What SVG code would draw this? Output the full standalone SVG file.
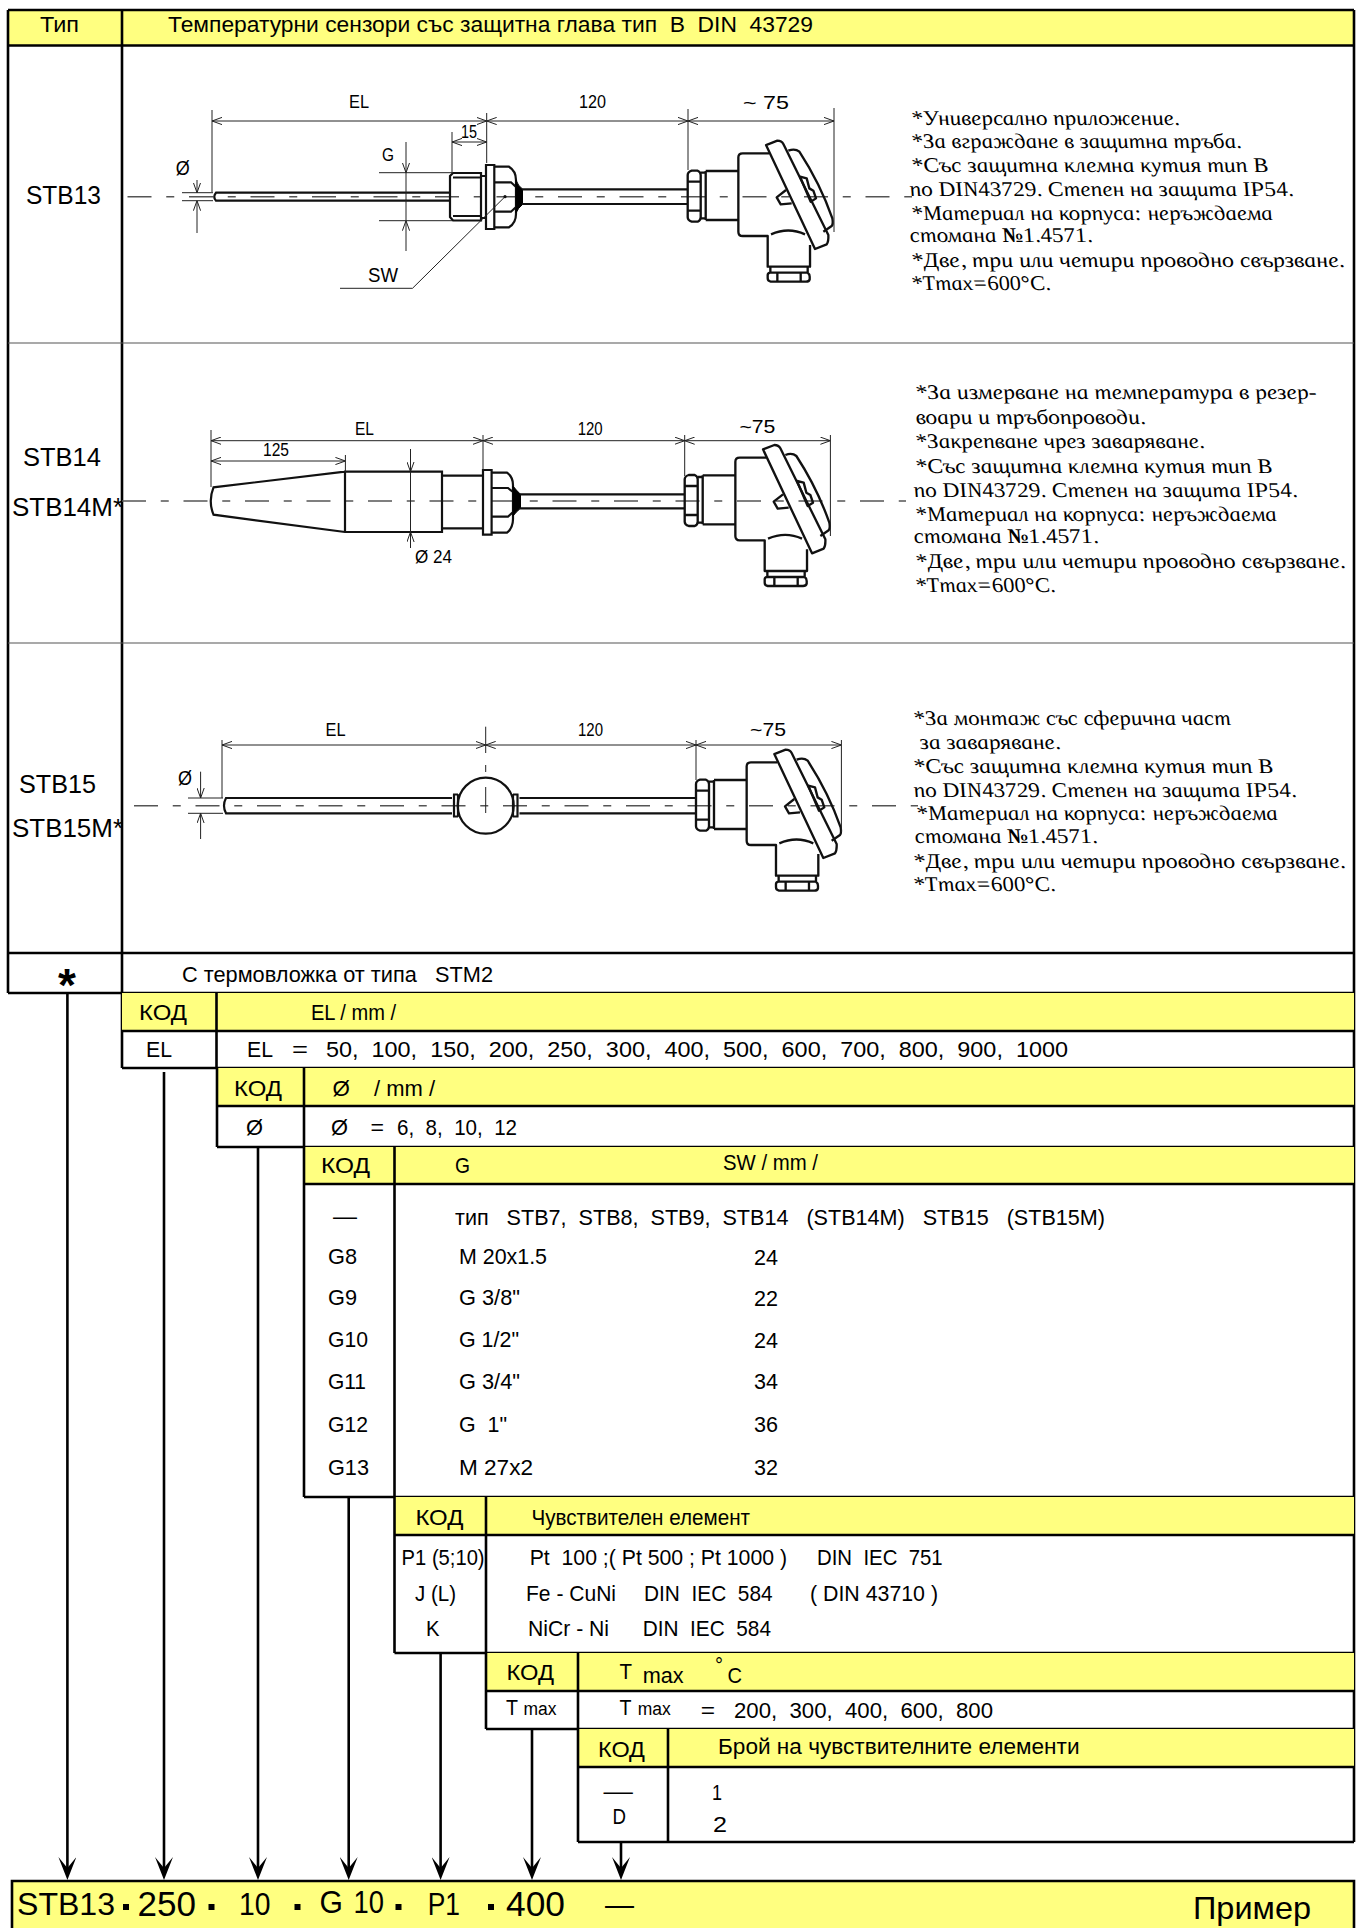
<svg xmlns="http://www.w3.org/2000/svg" width="1361" height="1928" viewBox="0 0 1361 1928">
<style>
text{white-space:pre;fill:#000}
.s{font:21.5px "Liberation Sans",Arial,sans-serif}
.b{font:25.5px "Liberation Sans",Arial,sans-serif}
.d{font:17.5px "Liberation Sans",Arial,sans-serif}
.x{font:32px "Liberation Sans",Arial,sans-serif}
.r{font:italic 21px "Liberation Serif","Times New Roman",serif}
.y{fill:#ffff80}
.g{stroke:#000;stroke-width:2.6;fill:none}
.t{stroke:#555;stroke-width:1.2;fill:none}
.p{stroke:#111;stroke-width:2.2;fill:none}
.f{fill:#000;stroke:#000;stroke-width:1}
.k{stroke:#222;stroke-width:1;fill:none}
.dim{stroke:#222;stroke-width:1;fill:none;marker-start:url(#oa);marker-end:url(#oa)}
.one{stroke:#222;stroke-width:1;fill:none;marker-end:url(#oa)}
.c{stroke:#555;stroke-width:1.6;fill:none;stroke-dasharray:24 14.75 8 14.75}
.a{stroke:#000;stroke-width:2.6;fill:none;marker-end:url(#fa)}
.h{stroke:#111;stroke-width:7;fill:none;stroke-linejoin:round}
</style>
<defs>
<marker id="oa" viewBox="0 0 10 8" refX="10" refY="4" markerWidth="10" markerHeight="8" markerUnits="userSpaceOnUse" orient="auto-start-reverse"><path d="M0,0.4 L10,4 L0,7.6" fill="none" stroke="#222" stroke-width="1"/></marker>
<marker id="fa" viewBox="0 0 23 18" refX="13" refY="9" markerWidth="23" markerHeight="18" markerUnits="userSpaceOnUse" orient="auto"><path d="M0,0 L23,9 L0,18 L11,9 Z" fill="#000"/></marker>
<g id="head" transform="scale(.3333) translate(-83,-230)">
<path class="h" d="M95,152 H113 Q122,156 122,165 V292 Q122,301 113,305 H95 Q83,301 83,292 V165 Q83,156 95,152 Z"/>
<path class="h" d="M83,185 H122 M83,272 H122 M122,158 H137 M122,295 H137"/>
<path class="h" d="M137,153 H235 M137,300 H235 M137,153 V300"/>
<path class="h" d="M327,100 H248 Q235,100 235,112 V335 Q235,348 248,348 H323 V440 H450 V375"/>
<path class="h" d="M333,343 Q385,320 435,343"/>
<path class="h" d="M331,440 V458 M443,440 V458 M330,458 H443 Q449,462 449,470 V478 Q447,485 438,485 H332 Q323,483 323,475 V465 Q323,460 330,458 Z M352,458 V485 M422,458 V485"/>
<path class="h" d="M318,75 L352,62 Q365,62 370,72 L505,345 Q506,365 500,373 L465,387 Z"/>
<path class="h" d="M385,92 Q405,84 418,95 Q480,190 517,295 Q520,312 515,318 L490,335"/>
<path class="h" d="M420,170 L440,175 L448,205 L460,212 L468,235 L452,245 Z"/>
<path class="h" d="M378,210 L350,232 L362,253 L395,250"/>
</g>
</defs>
<rect width="1361" height="1928" fill="#fff"/>

<g id="row-header">
<rect class="y" x="8" y="10" width="1346" height="35.5"/>
<path class="g" d="M8,10 H1354 M8,45.5 H1354"/>
<text class="s" x="40" y="32" textLength="39" lengthAdjust="spacingAndGlyphs">Тип</text>
<text class="s" x="168" y="32" textLength="645" lengthAdjust="spacingAndGlyphs">Температурни сензори със защитна глава тип  В  DIN  43729</text>
</g>

<g id="row-stb13">
<path class="g" d="M8,10 V993 M122,10 V1068 M1354,10 V1842"/>
<path class="t" d="M8,343 H1354"/>
<text class="b" x="26" y="204" textLength="75" lengthAdjust="spacingAndGlyphs">STB13</text>
<path class="c" d="M127.5,196.7 H912"/>
<path class="p" d="M451,192.7 H216 Q212.5,196.7 216,200.7 H451"/>
<path class="p" d="M453,173 H481 V220.5 H453 L450,217 V176 Z M453,177.5 H481 M453,216 H481 M481,176 H486 M481,218 H486"/>
<path class="p" d="M486,165 H494.3 V229 H486 Z"/>
<path class="p" d="M494.3,166.7 H509 Q516,171 516,180 V214 Q516,223 509,227.3 H494.3 M494.3,182.3 H511 L516,187 M494.3,211.7 H511 L516,207"/>
<path class="f" d="M516,180 Q518,186 522.5,189 V204.5 Q518,208 516,213 Z"/>
<path class="p" d="M522,189.3 H688 M522,204 H688"/>
<use href="#head" x="687.7" y="196.7"/>
<path class="dim" d="M212,121 H486.7"/><path class="dim" d="M486.7,121 H688"/><path class="dim" d="M688,121 H834"/>
<path class="dim" d="M452,142 H486.7"/>
<path class="k" d="M212,110 V192 M486.7,113 V163 M688,109 V170 M834,108 V232 M452,132 V173 M182,192.7 H213 M182,200.7 H213 M379,172.7 H452 M379,220.7 H452"/>
<path class="one" d="M197,180 V192.7"/><path class="one" d="M197,233 V200.7"/>
<path class="one" d="M406,142 V172.7"/><path class="one" d="M406,251 V220.7"/><path class="k" d="M406,172.7 V220.7"/>
<path class="k" d="M505,196.7 L412.5,288.3 H340"/><circle cx="505" cy="196.7" r="1.6" fill="#111"/>
<text class="d" x="349" y="108" textLength="20" lengthAdjust="spacingAndGlyphs">EL</text>
<text class="d" x="579" y="108" textLength="27" lengthAdjust="spacingAndGlyphs">120</text>
<text class="d" x="743" y="109" textLength="46" lengthAdjust="spacingAndGlyphs">~ 75</text>
<text class="d" x="461" y="138" textLength="16" lengthAdjust="spacingAndGlyphs">15</text>
<text class="d" x="382" y="161" textLength="12" lengthAdjust="spacingAndGlyphs">G</text>
<text class="d" x="175.7" y="175" textLength="14" lengthAdjust="spacingAndGlyphs" style="font-size:20px">Ø</text>
<text class="d" x="368" y="281.7" textLength="30" lengthAdjust="spacingAndGlyphs" style="font-size:20px">SW</text>
<text class="r" transform="translate(913,125) skewX(15)" textLength="268" lengthAdjust="spacingAndGlyphs">*Универсално приложение.</text>
<text class="r" transform="translate(913,148) skewX(15)" textLength="330" lengthAdjust="spacingAndGlyphs">*За вграждане в защитна тръба.</text>
<text class="r" transform="translate(913,172) skewX(15)" textLength="356" lengthAdjust="spacingAndGlyphs">*Със защитна клемна кутия тип В</text>
<text class="r" transform="translate(911,196) skewX(15)" textLength="384" lengthAdjust="spacingAndGlyphs">по DIN43729. Степен на защита IP54.</text>
<text class="r" transform="translate(913,220) skewX(15)" textLength="361" lengthAdjust="spacingAndGlyphs">*Материал на корпуса: неръждаема</text>
<text class="r" transform="translate(911,242) skewX(15)" textLength="183" lengthAdjust="spacingAndGlyphs">стомана <tspan font-weight="bold">№</tspan>1.4571.</text>
<text class="r" transform="translate(913,267) skewX(15)" textLength="433" lengthAdjust="spacingAndGlyphs">*Две, три или четири проводно свързване.</text>
<text class="r" transform="translate(913,290) skewX(15)" textLength="139" lengthAdjust="spacingAndGlyphs">*Tmax=600<tspan font-weight="bold">°</tspan>C.</text>
</g>

<g id="row-stb14">
<path class="t" d="M8,643 H1354"/>
<text class="b" x="23" y="466" textLength="78" lengthAdjust="spacingAndGlyphs">STB14</text>
<text class="b" x="12" y="516" textLength="111" lengthAdjust="spacingAndGlyphs">STB14M*</text>
<path class="c" d="M122,501 H906"/>
<path class="p" d="M345,471.7 L213.5,487.3 Q208,501 213.5,514.7 L345,532 M345,471.7 H442 V532 H345 Z"/>
<path class="p" d="M442,475.7 H483 M442,528.3 H483"/>
<path class="p" d="M483,470 H491.6 V534.7 H483 Z"/>
<path class="p" d="M491.6,472.7 H507 Q513,477 513,485 V519 Q513,528 507,532.7 H491.6 M491.6,488 H508 L513,492 M491.6,516.7 H508 L513,512"/>
<path class="f" d="M513,486 Q516,490 520.5,494.3 V508.3 Q516,512 513,516 Z"/>
<path class="p" d="M520,494.3 H685 M520,508.3 H685"/>
<use href="#head" x="684.7" y="501"/>
<path class="dim" d="M211,440.7 H483"/><path class="dim" d="M483,440.7 H684.7"/><path class="dim" d="M684.7,440.7 H830.4"/>
<path class="dim" d="M211,461 H345.4"/>
<path class="k" d="M211,430 V487 M483,435 V470 M684.7,435 V476 M830.4,435 V536 M345.4,455 V472"/>
<path class="one" d="M410.5,449 V471.7"/><path class="one" d="M410.5,548 V532"/><path class="k" d="M410.5,471.7 V532"/>
<text class="d" x="355" y="435" textLength="19" lengthAdjust="spacingAndGlyphs">EL</text>
<text class="d" x="577.7" y="435" textLength="25" lengthAdjust="spacingAndGlyphs">120</text>
<text class="d" x="739.4" y="432.7" textLength="36" lengthAdjust="spacingAndGlyphs">~75</text>
<text class="d" x="263" y="456" textLength="26" lengthAdjust="spacingAndGlyphs">125</text>
<text class="d" x="415" y="563" textLength="37" lengthAdjust="spacingAndGlyphs">Ø 24</text>
<text class="r" transform="translate(917,399) skewX(15)" textLength="401" lengthAdjust="spacingAndGlyphs">*За измерване на температура в резер-</text>
<text class="r" transform="translate(917,424) skewX(15)" textLength="230" lengthAdjust="spacingAndGlyphs">воари и тръбопроводи.</text>
<text class="r" transform="translate(917,448) skewX(15)" textLength="289" lengthAdjust="spacingAndGlyphs">*Закрепване чрез заваряване.</text>
<text class="r" transform="translate(917,473) skewX(15)" textLength="356" lengthAdjust="spacingAndGlyphs">*Със защитна клемна кутия тип В</text>
<text class="r" transform="translate(915,497) skewX(15)" textLength="384" lengthAdjust="spacingAndGlyphs">по DIN43729. Степен на защита IP54.</text>
<text class="r" transform="translate(917,521) skewX(15)" textLength="361" lengthAdjust="spacingAndGlyphs">*Материал на корпуса: неръждаема</text>
<text class="r" transform="translate(915,543) skewX(15)" textLength="185" lengthAdjust="spacingAndGlyphs">стомана <tspan font-weight="bold">№</tspan>1.4571.</text>
<text class="r" transform="translate(917,568) skewX(15)" textLength="430" lengthAdjust="spacingAndGlyphs">*Две, три или четири проводно свързване.</text>
<text class="r" transform="translate(917,592) skewX(15)" textLength="140" lengthAdjust="spacingAndGlyphs">*Tmax=600<tspan font-weight="bold">°</tspan>C.</text>
</g>

<g id="row-stb15">
<text class="b" x="19" y="793" textLength="77" lengthAdjust="spacingAndGlyphs">STB15</text>
<text class="b" x="12" y="837" textLength="111" lengthAdjust="spacingAndGlyphs">STB15M*</text>
<path class="c" d="M134,805.7 H918"/>
<path class="p" d="M452,798 H226 Q222,805.7 226,813.3 H452 M519.5,798 H696 M519.5,813.3 H696"/>
<circle class="p" cx="485.7" cy="805.7" r="28"/>
<path class="p" d="M454,794.3 V816.7 M458,794.3 V816.7 M513,794.3 V816.7 M517.5,794.3 V816.7 M453,794.5 H458 M453,816.5 H458 M513,794.5 H518.5 M513,816.5 H518.5"/>
<use href="#head" x="696" y="805.7"/>
<path class="dim" d="M222,745 H485.7"/><path class="dim" d="M485.7,745 H696"/><path class="dim" d="M696,745 H841.4"/>
<path class="k" d="M222,740 V798 M485.7,726.7 V753 M485.7,765 V772 M485.7,787 V813 M696,740 V780 M841.4,740 V832 M188,798 H223 M188,813.3 H223"/>
<path class="one" d="M200.6,771.7 V798"/><path class="one" d="M200.6,839 V813.3"/>
<text class="d" x="325.5" y="735.7" textLength="20" lengthAdjust="spacingAndGlyphs">EL</text>
<text class="d" x="578" y="736" textLength="25" lengthAdjust="spacingAndGlyphs">120</text>
<text class="d" x="750" y="736" textLength="36" lengthAdjust="spacingAndGlyphs">~75</text>
<text class="d" x="178" y="785" textLength="14" lengthAdjust="spacingAndGlyphs" style="font-size:20px">Ø</text>
<text class="r" transform="translate(915,725) skewX(15)" textLength="317" lengthAdjust="spacingAndGlyphs">*За монтаж със сферична част</text>
<text class="r" transform="translate(921,749) skewX(15)" textLength="141" lengthAdjust="spacingAndGlyphs">за заваряване.</text>
<text class="r" transform="translate(915,773) skewX(15)" textLength="359" lengthAdjust="spacingAndGlyphs">*Със защитна клемна кутия тип В</text>
<text class="r" transform="translate(915,797) skewX(15)" textLength="383" lengthAdjust="spacingAndGlyphs">по DIN43729. Степен на защита IP54.</text>
<text class="r" transform="translate(918,820) skewX(15)" textLength="361" lengthAdjust="spacingAndGlyphs">*Материал на корпуса: неръждаема</text>
<text class="r" transform="translate(916,843) skewX(15)" textLength="183" lengthAdjust="spacingAndGlyphs">стомана <tspan font-weight="bold">№</tspan>1.4571.</text>
<text class="r" transform="translate(915,868) skewX(15)" textLength="432" lengthAdjust="spacingAndGlyphs">*Две, три или четири проводно свързване.</text>
<text class="r" transform="translate(915,891) skewX(15)" textLength="142" lengthAdjust="spacingAndGlyphs">*Tmax=600<tspan font-weight="bold">°</tspan>C.</text>
</g>

<g id="row-star">
<path class="g" d="M8,953 H1354 M8,993 H1354"/>
<text x="67" y="1001" text-anchor="middle" font-family="Liberation Sans, sans-serif" font-weight="bold" font-size="46">*</text>
<text class="s" x="182" y="982" textLength="311" lengthAdjust="spacingAndGlyphs">С термовложка от типа   STM2</text>
</g>

<g id="tbl-el">
<rect class="y" x="122" y="993" width="1232" height="38"/>
<path class="g" d="M122,1031 H1354 M122,1068 H1354 M216.5,993 V1068"/>
<text class="s" x="139" y="1020" textLength="48" lengthAdjust="spacingAndGlyphs">КОД</text>
<text class="s" x="311" y="1020" textLength="85" lengthAdjust="spacingAndGlyphs">EL / mm /</text>
<text class="s" x="146" y="1056.5" textLength="26" lengthAdjust="spacingAndGlyphs">EL</text>
<text class="s" x="247" y="1056.5" textLength="26" lengthAdjust="spacingAndGlyphs">EL</text>
<text class="s" x="292" y="1056.5" textLength="16" lengthAdjust="spacingAndGlyphs">=</text>
<text class="s" x="326" y="1056.5" textLength="742" lengthAdjust="spacingAndGlyphs">50,  100,  150,  200,  250,  300,  400,  500,  600,  700,  800,  900,  1000</text>
</g>

<g id="tbl-d">
<rect class="y" x="217" y="1068" width="1137" height="38"/>
<path class="g" d="M217,1106 H1354 M217,1147 H1354 M217,1068 V1147 M304,1068 V1147"/>
<text class="s" x="234" y="1096" textLength="48" lengthAdjust="spacingAndGlyphs">КОД</text>
<text class="s" x="332.6" y="1096" textLength="17.4" lengthAdjust="spacingAndGlyphs">Ø</text>
<text class="s" x="374" y="1096" textLength="61" lengthAdjust="spacingAndGlyphs">/ mm /</text>
<text class="s" x="246" y="1135" textLength="17" lengthAdjust="spacingAndGlyphs">Ø</text>
<text class="s" x="331" y="1135" textLength="17" lengthAdjust="spacingAndGlyphs">Ø</text>
<text class="s" x="370.5" y="1135" textLength="13.5" lengthAdjust="spacingAndGlyphs">=</text>
<text class="s" x="397" y="1135" textLength="120" lengthAdjust="spacingAndGlyphs">6,  8,  10,  12</text>
</g>

<g id="tbl-g">
<rect class="y" x="304" y="1147" width="1050" height="37"/>
<path class="g" d="M304,1184 H1354 M304,1497 H1354 M304,1147 V1497 M394.5,1147 V1497"/>
<text class="s" x="321" y="1173" textLength="49" lengthAdjust="spacingAndGlyphs">КОД</text>
<text class="s" x="455" y="1173" textLength="15" lengthAdjust="spacingAndGlyphs">G</text>
<text class="s" x="723" y="1170" textLength="95" lengthAdjust="spacingAndGlyphs">SW / mm /</text>
<text class="s" x="333" y="1224" textLength="24" lengthAdjust="spacingAndGlyphs">—</text>
<text class="s" x="455" y="1225" textLength="650" lengthAdjust="spacingAndGlyphs">тип   STB7,  STB8,  STB9,  STB14   (STB14M)   STB15   (STB15M)</text>
<text class="s" x="328" y="1264" textLength="29" lengthAdjust="spacingAndGlyphs">G8</text>
<text class="s" x="459" y="1264" textLength="88" lengthAdjust="spacingAndGlyphs">M 20x1.5</text>
<text class="s" x="754" y="1265" textLength="24" lengthAdjust="spacingAndGlyphs">24</text>
<text class="s" x="328" y="1305" textLength="29" lengthAdjust="spacingAndGlyphs">G9</text>
<text class="s" x="459" y="1305" textLength="61" lengthAdjust="spacingAndGlyphs">G 3/8"</text>
<text class="s" x="754" y="1306" textLength="24" lengthAdjust="spacingAndGlyphs">22</text>
<text class="s" x="328" y="1347" textLength="40" lengthAdjust="spacingAndGlyphs">G10</text>
<text class="s" x="459" y="1347" textLength="60" lengthAdjust="spacingAndGlyphs">G 1/2"</text>
<text class="s" x="754" y="1348" textLength="24" lengthAdjust="spacingAndGlyphs">24</text>
<text class="s" x="328" y="1389" textLength="38" lengthAdjust="spacingAndGlyphs">G11</text>
<text class="s" x="459" y="1389" textLength="61" lengthAdjust="spacingAndGlyphs">G 3/4"</text>
<text class="s" x="754" y="1389" textLength="24" lengthAdjust="spacingAndGlyphs">34</text>
<text class="s" x="328" y="1432" textLength="40" lengthAdjust="spacingAndGlyphs">G12</text>
<text class="s" x="459" y="1432" textLength="48" lengthAdjust="spacingAndGlyphs">G  1"</text>
<text class="s" x="754" y="1432" textLength="24" lengthAdjust="spacingAndGlyphs">36</text>
<text class="s" x="328" y="1475" textLength="41" lengthAdjust="spacingAndGlyphs">G13</text>
<text class="s" x="459" y="1475" textLength="74" lengthAdjust="spacingAndGlyphs">M 27x2</text>
<text class="s" x="754" y="1475" textLength="24" lengthAdjust="spacingAndGlyphs">32</text>
</g>

<g id="tbl-sens">
<rect class="y" x="394.5" y="1497" width="959.5" height="38"/>
<path class="g" d="M394.5,1535 H1354 M394.5,1653 H1354 M394.5,1497 V1653 M486,1497 V1653"/>
<text class="s" x="415.4" y="1525" textLength="48" lengthAdjust="spacingAndGlyphs">КОД</text>
<text class="s" x="531.5" y="1525" textLength="218.5" lengthAdjust="spacingAndGlyphs">Чувствителен елемент</text>
<text class="s" x="401.6" y="1565" textLength="83" lengthAdjust="spacingAndGlyphs">P1 (5;10)</text>
<text class="s" x="529.7" y="1565" textLength="257.3" lengthAdjust="spacingAndGlyphs">Pt  100 ;( Pt 500 ; Pt 1000 )</text>
<text class="s" x="817" y="1565" textLength="125.7" lengthAdjust="spacingAndGlyphs">DIN  IEC  751</text>
<text class="s" x="415" y="1601" textLength="41" lengthAdjust="spacingAndGlyphs">J (L)</text>
<text class="s" x="526" y="1601" textLength="90" lengthAdjust="spacingAndGlyphs">Fe - CuNi</text>
<text class="s" x="644" y="1601" textLength="128.6" lengthAdjust="spacingAndGlyphs">DIN  IEC  584</text>
<text class="s" x="810" y="1601" textLength="128" lengthAdjust="spacingAndGlyphs">( DIN 43710 )</text>
<text class="s" x="426" y="1636" textLength="13.5" lengthAdjust="spacingAndGlyphs">K</text>
<text class="s" x="528" y="1636" textLength="81" lengthAdjust="spacingAndGlyphs">NiCr - Ni</text>
<text class="s" x="642.7" y="1636" textLength="128.3" lengthAdjust="spacingAndGlyphs">DIN  IEC  584</text>
</g>

<g id="tbl-tmax">
<rect class="y" x="486" y="1653" width="868" height="38"/>
<path class="g" d="M486,1691 H1354 M486,1729 H1354 M486,1653 V1729 M578,1653 V1729"/>
<text class="s" x="506.5" y="1680" textLength="47.5" lengthAdjust="spacingAndGlyphs">КОД</text>
<text class="s" x="619.5" y="1679" textLength="12.5" lengthAdjust="spacingAndGlyphs">T</text>
<text class="s" x="642.7" y="1682.7" textLength="41" lengthAdjust="spacingAndGlyphs">max</text>
<text class="s" x="715" y="1673" textLength="8" lengthAdjust="spacingAndGlyphs">°</text>
<text class="s" x="727.5" y="1683" textLength="14.5" lengthAdjust="spacingAndGlyphs">C</text>
<text class="s" x="506" y="1715" textLength="12" lengthAdjust="spacingAndGlyphs">T</text>
<text class="d" x="523.5" y="1715" textLength="33" lengthAdjust="spacingAndGlyphs" style="font-size:18px">max</text>
<text class="s" x="619.5" y="1715" textLength="12" lengthAdjust="spacingAndGlyphs">T</text>
<text class="d" x="637.8" y="1715" textLength="33" lengthAdjust="spacingAndGlyphs" style="font-size:18px">max</text>
<text class="s" x="700.7" y="1718" textLength="14.3" lengthAdjust="spacingAndGlyphs">=</text>
<text class="s" x="734" y="1718" textLength="259" lengthAdjust="spacingAndGlyphs">200,  300,  400,  600,  800</text>
</g>

<g id="tbl-count">
<rect class="y" x="578" y="1729" width="776" height="38"/>
<path class="g" d="M578,1767 H1354 M578,1842 H1354 M578,1729 V1842 M668,1729 V1842"/>
<text class="s" x="598" y="1756.7" textLength="47" lengthAdjust="spacingAndGlyphs">КОД</text>
<text class="s" x="718" y="1754" textLength="361.5" lengthAdjust="spacingAndGlyphs">Брой на чувствителните елементи</text>
<text class="s" x="603.6" y="1799" textLength="29.4" lengthAdjust="spacingAndGlyphs">—</text>
<text class="s" x="612.5" y="1824" textLength="13.5" lengthAdjust="spacingAndGlyphs">D</text>
<text class="s" x="712" y="1800" textLength="10" lengthAdjust="spacingAndGlyphs">1</text>
<text class="s" x="713" y="1832" textLength="14" lengthAdjust="spacingAndGlyphs">2</text>
</g>

<g id="example">
<rect class="y" x="12" y="1881" width="1342" height="47"/>
<path class="g" d="M12,1928 V1881 H1354 V1928"/>
<text class="x" x="17" y="1915" textLength="98" lengthAdjust="spacingAndGlyphs">STB13</text>
<text class="x" x="137.5" y="1916" textLength="58.5" lengthAdjust="spacingAndGlyphs" style="font-size:35px">250</text>
<text class="x" x="239" y="1915" textLength="31.5" lengthAdjust="spacingAndGlyphs">10</text>
<text class="x" x="319.6" y="1913" textLength="23.4" lengthAdjust="spacingAndGlyphs">G</text>
<text class="x" x="353.6" y="1913" textLength="30.4" lengthAdjust="spacingAndGlyphs">10</text>
<text class="x" x="427.7" y="1915" textLength="32.3" lengthAdjust="spacingAndGlyphs">P1</text>
<text class="x" x="506" y="1916" textLength="59" lengthAdjust="spacingAndGlyphs" style="font-size:35px">400</text>
<text class="x" x="605" y="1915" textLength="29" lengthAdjust="spacingAndGlyphs" font-weight="bold">—</text>
<text class="x" x="1193" y="1919" textLength="118" lengthAdjust="spacingAndGlyphs">Пример</text>
<path d="M123,1904 h6 v6 h-6 Z M208.5,1904 h6 v6 h-6 Z M294.5,1904 h6 v6 h-6 Z M395.5,1904 h6 v6 h-6 Z M488,1904 h6 v6 h-6 Z" fill="#000"/>
</g>

<g id="connectors">
<path class="a" d="M67.4,993 V1870"/>
<path class="a" d="M164,1072 V1870"/>
<path class="a" d="M258,1147 V1870"/>
<path class="a" d="M348.7,1497 V1870"/>
<path class="a" d="M440.6,1653 V1870"/>
<path class="a" d="M532,1729 V1870"/>
<path class="a" d="M621,1842 V1870"/>
</g>
</svg>
